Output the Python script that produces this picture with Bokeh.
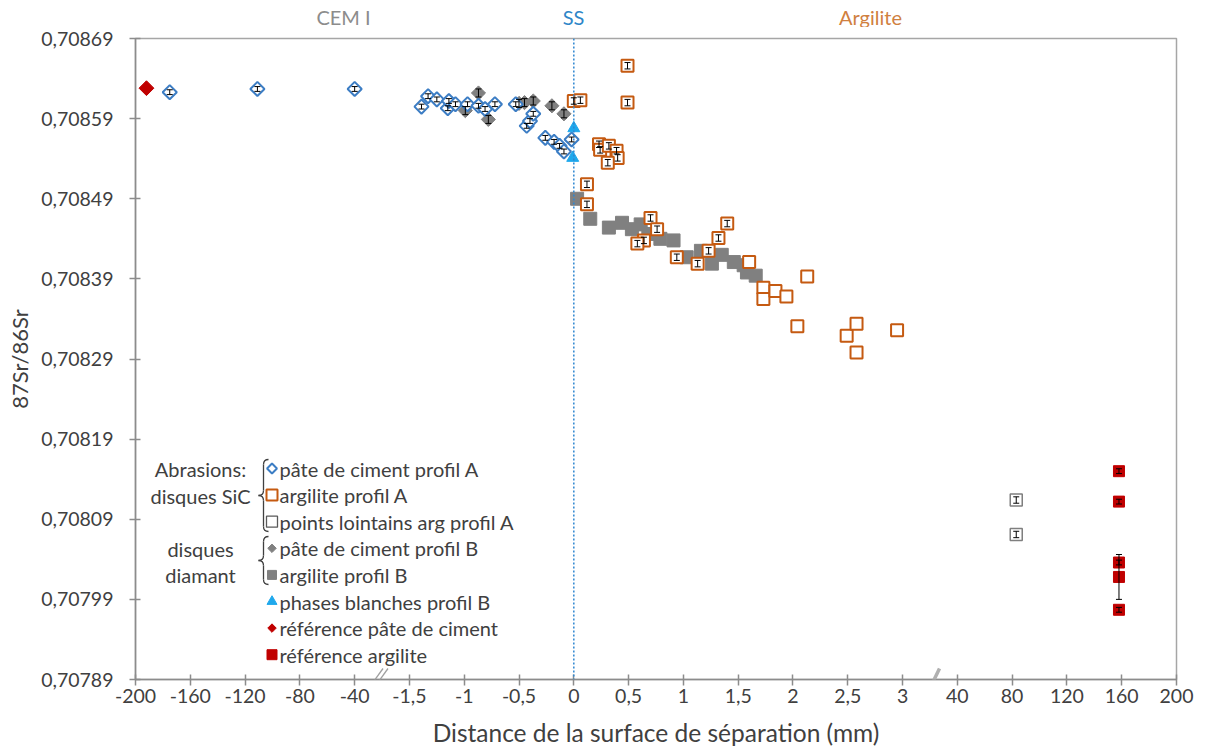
import numpy as np
from bokeh.plotting import figure
from bokeh.layouts import column
from bokeh.models import (Range1d, FixedTicker, CustomJSTickFormatter, ColumnDataSource,
                          Whisker, TeeHead, Span, Label, Arrow)
from bokeh.embed import file_html
from bokeh.resources import INLINE

FONT = "Lato"

# ---------------- data ----------------
X_TICK_LABELS = ["-200", "-160", "-120", "-80", "-40", "-1,5", "-1", "-0,5", "0", "0,5",
                 "1", "1,5", "2", "2,5", "3", "40", "80", "120", "160", "200"]
Y_TICKS = [0.70789, 0.70799, 0.70809, 0.70819, 0.70829, 0.70839, 0.70849, 0.70859, 0.70869]

# pâte de ciment profil A (SiC)
pcA_x = [-175, -111, -40,
         -1.39, -1.33, -1.25, -1.15, -1.14, -1.08, -0.97, -0.87, -0.81, -0.72,
         -0.53, -0.43, -0.40, -0.37, -0.26, -0.18, -0.13, -0.09, -0.02]
pcA_y = [0.708623, 0.708627, 0.708627,
         0.708605, 0.708618, 0.708614, 0.708603, 0.708612, 0.708608, 0.708608, 0.708606,
         0.708602, 0.708608, 0.708608, 0.708581, 0.708587, 0.708596, 0.708566, 0.708561,
         0.708556, 0.708549, 0.708564]
pcA_err = [0.000003] * 22

# argilite profil A (SiC)
argA_x = [0.00, 0.06, 0.49, 0.49, 0.23, 0.24, 0.32, 0.39, 0.40, 0.31, 0.12, 0.12,
          0.70, 0.76, 0.64, 0.58, 0.94, 1.13, 1.23, 1.32, 1.40, 1.60, 1.73, 1.73,
          1.84, 1.94, 2.13, 2.04, 2.49, 2.58, 2.58, 2.95]
argA_y = [0.708612, 0.708613, 0.708656, 0.708610, 0.708558, 0.708551, 0.708556, 0.708550,
          0.708541, 0.708535, 0.708508, 0.708483, 0.708466, 0.708452, 0.708438, 0.708434,
          0.708417, 0.708409, 0.708425, 0.708441, 0.708459, 0.708411, 0.708379, 0.708365,
          0.708375, 0.708368, 0.708393, 0.708331, 0.708319, 0.708334, 0.708298, 0.708326]
argA_err = [0.000004] * 21 + [0.0] * 11

# points lointains argilite profil A
farA_x = [83, 83]
farA_y = [0.708114, 0.708071]
farA_err = [0.000004, 0.000004]

# pâte de ciment profil B (diamant)
pcB_x = [-0.99, -0.87, -0.78, -0.50, -0.45, -0.37, -0.20, -0.09]
pcB_y = [0.708600, 0.708622, 0.708589, 0.708609, 0.708610, 0.708612, 0.708606, 0.708596]
pcB_err = [0.000005] * 8

# argilite profil B (diamant)
argB_x = [0.03, 0.15, 0.32, 0.44, 0.53, 0.61, 0.68, 0.79, 0.91, 1.03, 1.16, 1.26,
          1.35, 1.46, 1.55, 1.58, 1.66]
argB_y = [0.708490, 0.708465, 0.708454, 0.708460, 0.708452, 0.708458, 0.708446, 0.708440,
          0.708438, 0.708417, 0.708425, 0.708409, 0.708420, 0.708411, 0.708407, 0.708398,
          0.708394]

# phases blanches profil B
pbB_x = [0.00, -0.01]
pbB_y = [0.708578, 0.708541]

# référence pâte de ciment
refC_x = [-192]
refC_y = [0.708628]

# référence argilite
refA_x = [158, 158, 158, 158, 158]
refA_y = [0.708150, 0.708112, 0.708036, 0.708018, 0.707977]
refA_err = [0.000003, 0.000003, 0.000003, 0.000028, 0.000003]

LEGEND_LABELS = ["pâte de ciment profil A", "argilite profil A", "points lointains arg profil A",
                 "pâte de ciment profil B", "argilite profil B", "phases blanches profil B",
                 "référence pâte de ciment", "référence argilite"]
ZONE_LABELS = ["CEM I", "SS", "Argilite"]


# ---------------- broken axis mapping ----------------
def to_u(v):
    if v <= -30:
        return (v + 200) / 40.0
    if v >= 30:
        return 15 + (v - 40) / 40.0
    return 8 + 2.0 * v


def us(xs):
    return [to_u(v) for v in xs]


# layout (page pixels)
TOP_H = 27
MAIN_H = 728
FRAME_L, FRAME_R, FRAME_T, FRAME_B = 135, 1176, 38, 679
FIG_W = 1200
U_MAX = len(X_TICK_LABELS) - 1
Y_MIN, Y_MAX = Y_TICKS[0], Y_TICKS[-1]


def px_u(px):
    return (px - FRAME_L) / (FRAME_R - FRAME_L) * U_MAX


def py_v(py):
    return Y_MAX - (py - FRAME_T) / (FRAME_B - FRAME_T) * (Y_MAX - Y_MIN)


BLUE = "#3C7DC4"
ORANGE = "#C55A11"
GRAY = "#808080"
LBLUE = "#1FA8EC"
RED = "#C00000"
TXT = "#404040"

xr = Range1d(0, U_MAX)

p = figure(width=FIG_W, height=MAIN_H, output_backend="svg", toolbar_location=None,
           x_range=xr, y_range=Range1d(Y_MIN, Y_MAX),
           min_border_left=FRAME_L, min_border_right=FIG_W - FRAME_R,
           min_border_top=FRAME_T - TOP_H, min_border_bottom=TOP_H + MAIN_H - FRAME_B)
p.background_fill_color = "white"
p.border_fill_color = "white"
p.outline_line_color = "#A6A6A6"
p.outline_line_width = 1.5
p.xgrid.grid_line_color = None
p.ygrid.grid_line_color = None

p.xaxis.ticker = FixedTicker(ticks=list(range(len(X_TICK_LABELS))))
p.xaxis.formatter = CustomJSTickFormatter(args=dict(labels=X_TICK_LABELS),
                                          code="const s = labels[Math.round(tick)]; return s === undefined ? '' : s;")
p.yaxis.ticker = FixedTicker(ticks=Y_TICKS)
p.yaxis.formatter = CustomJSTickFormatter(code="return tick.toFixed(5).replace('.', ',');")
for ax in (p.xaxis, p.yaxis):
    ax.axis_line_color = "#8C8C8C"
    ax.axis_line_width = 1.5
    ax.major_tick_line_color = "#8C8C8C"
    ax.major_tick_line_width = 1.5
    ax.major_tick_in = 5
    ax.major_tick_out = 6
    ax.minor_tick_line_color = None
    ax.major_label_text_font = FONT
    ax.major_label_text_font_size = "19.5px"
    ax.major_label_text_color = "#404040"
    ax.axis_label_text_font = FONT
    ax.axis_label_text_font_style = "normal"
    ax.axis_label_text_color = TXT
p.yaxis.major_label_standoff = 16
p.xaxis.major_label_standoff = 3
p.xaxis.axis_label = "Distance de la surface de séparation (mm)"
p.xaxis.axis_label_text_font_size = "24.5px"
p.xaxis.axis_label_standoff = 12
p.yaxis.axis_label = "87Sr/86Sr"
p.yaxis.axis_label_text_font_size = "22px"
p.yaxis.axis_label_standoff = 5

# SS line
p.add_layout(Span(location=to_u(0), dimension="height", line_color="#2E86D0",
                  line_dash="2 2", line_width=1.5))


def whiskers(xs, ys, errs):
    keep = [(x, y, e) for x, y, e in zip(xs, ys, errs) if e > 0]
    src = ColumnDataSource(dict(x=us([k[0] for k in keep]),
                                upper=[k[1] + k[2] for k in keep],
                                lower=[k[1] - k[2] for k in keep]))
    w = Whisker(source=src, base="x", upper="upper", lower="lower", dimension="height",
                level="overlay", line_color="black", line_width=1,
                upper_head=TeeHead(size=6, line_color="black", line_width=1),
                lower_head=TeeHead(size=6, line_color="black", line_width=1))
    p.add_layout(w)


# series (draw order)
p.scatter(us(pcB_x), pcB_y, marker="square", angle=np.pi / 4, size=10, fill_color=GRAY,
          line_color=GRAY)
whiskers(pcB_x, pcB_y, pcB_err)
p.scatter(us(argB_x), argB_y, marker="square", size=13, fill_color=GRAY, line_color=GRAY)
p.scatter(us(pcA_x), pcA_y, marker="square", angle=np.pi / 4, size=10, fill_color="white",
          line_color=BLUE, line_width=2)
whiskers(pcA_x, pcA_y, pcA_err)
p.scatter(us(argA_x), argA_y, marker="square", size=12, fill_color="white",
          line_color=ORANGE, line_width=2)
whiskers(argA_x, argA_y, argA_err)
p.scatter(us(pbB_x), pbB_y, marker="triangle", size=12, fill_color=LBLUE, line_color=LBLUE)
p.scatter(us(farA_x), farA_y, marker="square", size=12, fill_color="white",
          line_color="#7F7F7F", line_width=1.5)
whiskers(farA_x, farA_y, farA_err)
p.scatter(us(refC_x), refC_y, marker="square", angle=np.pi / 4, size=10.5, fill_color=RED,
          line_color=RED)
p.scatter(us(refA_x), refA_y, marker="square", size=11, fill_color=RED, line_color=RED)
whiskers(refA_x, refA_y, refA_err)

# ---------------- manual legend ----------------
LEG_MX, LEG_TX, LEG_Y0, LEG_DY = 271.5, 279, 468, 26.6
leg_styles = [
    dict(marker="square", angle=np.pi / 4, size=7, fill_color="white", line_color=BLUE, line_width=2),
    dict(marker="square", size=11, fill_color="white", line_color=ORANGE, line_width=2),
    dict(marker="square", size=11, fill_color="white", line_color="#595959", line_width=1.3),
    dict(marker="square", angle=np.pi / 4, size=6, fill_color=GRAY, line_color=GRAY),
    dict(marker="square", size=9, fill_color=GRAY, line_color=GRAY),
    dict(marker="triangle", size=10, fill_color=LBLUE, line_color=LBLUE),
    dict(marker="square", angle=np.pi / 4, size=6, fill_color=RED, line_color=RED),
    dict(marker="square", size=10, fill_color=RED, line_color=RED),
]
leg_u = px_u(LEG_MX)
for i, (lab, st) in enumerate(zip(LEGEND_LABELS, leg_styles)):
    yv = py_v(LEG_Y0 + i * LEG_DY)
    p.scatter([leg_u], [yv], **st)
    p.add_layout(Label(x=px_u(LEG_TX), y=yv, text=lab, text_font=FONT, text_font_size="20px",
                       text_color=TXT, text_baseline="middle", text_align="left"))

for txt, px, py in [("Abrasions:", 200, 468), ("disques SiC", 200, 495),
                    ("disques", 200, 548), ("diamant", 200, 574)]:
    p.add_layout(Label(x=px_u(px), y=py_v(py), text=txt, text_font=FONT, text_font_size="20px",
                       text_color=TXT, text_baseline="middle", text_align="center"))


def brace(xrt, xm, xl, top, bot):
    mid = (top + bot) / 2.0
    r = 5
    quads = [((xrt, top), (xm, top), (xm, top + r)),
             ((xm, mid - r), (xm, mid), (xl, mid)),
             ((xl, mid), (xm, mid), (xm, mid + r)),
             ((xm, bot - r), (xm, bot), (xrt, bot))]
    for (a, c, b) in quads:
        p.quadratic(x0=px_u(a[0]), y0=py_v(a[1]), x1=px_u(b[0]), y1=py_v(b[1]),
                    cx=px_u(c[0]), cy=py_v(c[1]), line_color="#404040", line_width=1.3)
    p.segment(x0=[px_u(xm), px_u(xm)], y0=[py_v(top + r), py_v(mid + r)],
              x1=[px_u(xm), px_u(xm)], y1=[py_v(mid - r), py_v(bot - r)],
              line_color="#404040", line_width=1.3)


brace(268, 263, 258, 459, 531)
brace(268, 263, 258, 536, 584)

# axis break marks
for dx in (-2.5, 2.5):
    p.add_layout(Arrow(end=None, x_start=px_u(367 + dx), y_start=py_v(693),
                       x_end=px_u(385 + dx), y_end=py_v(668),
                       line_color="#A0A0A0", line_width=1.3))
p.add_layout(Arrow(end=None, x_start=px_u(925), y_start=py_v(697), x_end=px_u(939),
                   y_end=py_v(668), line_color="#B0B0B0", line_width=3.5))

# ---------------- zone labels strip above the plot ----------------
top = figure(width=FIG_W, height=TOP_H, output_backend="svg", toolbar_location=None,
             x_range=xr, y_range=Range1d(0, TOP_H), x_axis_type=None, y_axis_type=None,
             min_border_left=FRAME_L, min_border_right=FIG_W - FRAME_R,
             min_border_top=0, min_border_bottom=0)
top.outline_line_color = None
top.grid.grid_line_color = None
for txt, px, col in zip(ZONE_LABELS, [343, 573, 870], ["#8C8C8C", "#2E86C8", "#D0803F"]):
    top.add_layout(Label(x=px_u(px), y=TOP_H - 16, text=txt, text_font=FONT,
                         text_font_size="20px", text_color=col,
                         text_baseline="middle", text_align="center"))

layout = column(top, p, spacing=0)
open("out.html", "w").write(file_html(layout, INLINE))
